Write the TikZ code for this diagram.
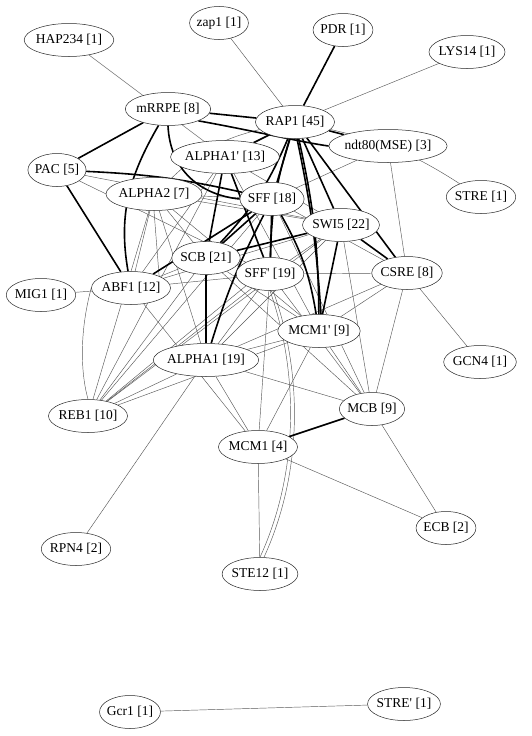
\documentclass[tikz,border=0pt]{standalone}
\usepackage{fontspec}
\setmainfont{Liberation Serif}
\usetikzlibrary{shapes.geometric,backgrounds}
\begin{document}
\begin{tikzpicture}[x=1pt,y=-1pt,
  gnode/.style={draw=black!85,fill=white,ellipse,line width=0.5pt,inner xsep=-1.5pt,inner ysep=1pt,minimum height=33pt,font=\fontsize{13.5}{15}\selectfont},
  tn/.style={draw=black!65,line width=0.45pt},
  tk/.style={draw=black,line width=1.6pt}]
\useasboundingbox (0,0) rectangle (532,736);
\node[gnode] (hap) at (69,40) {HAP234 [1]};
\node[gnode] (zap) at (219,23) {zap1 [1]};
\node[gnode] (pdr) at (343,30) {PDR [1]};
\node[gnode] (lys) at (467,52) {LYS14 [1]};
\node[gnode] (mrrpe) at (168,109) {mRRPE [8]};
\node[gnode] (rap) at (295,122) {RAP1 [45]};
\node[gnode] (ndt) at (388,146) {ndt80(MSE) [3]};
\node[gnode] (a1p) at (225,157) {ALPHA1\textquotesingle\ [13]};
\node[gnode] (pac) at (57,170) {PAC [5]};
\node[gnode] (stre) at (481,197) {STRE [1]};
\node[gnode] (a2) at (154,194) {ALPHA2 [7]};
\node[gnode] (sff) at (272,199) {SFF [18]};
\node[gnode] (swi) at (341,225) {SWI5 [22]};
\node[gnode] (scb) at (206,258) {SCB [21]};
\node[gnode] (sffp) at (270,274) {SFF\textquotesingle\ [19]};
\node[gnode] (csre) at (407,273) {CSRE [8]};
\node[gnode] (mig) at (41,295) {MIG1 [1]};
\node[gnode] (abf) at (131,288) {ABF1 [12]};
\node[gnode] (mcmp) at (319,331) {MCM1\textquotesingle\ [9]};
\node[gnode] (gcn) at (480,362) {GCN4 [1]};
\node[gnode] (a1) at (206,360) {ALPHA1 [19]};
\node[gnode] (reb) at (88,416) {REB1 [10]};
\node[gnode] (mcb) at (372,409) {MCB [9]};
\node[gnode] (mcm) at (258,447) {MCM1 [4]};
\node[gnode] (ecb) at (446,528) {ECB [2]};
\node[gnode] (rpn) at (76,549) {RPN4 [2]};
\node[gnode] (ste) at (260,574) {STE12 [1]};
\node[gnode] (gcr) at (130,712) {Gcr1 [1]};
\node[gnode] (strep) at (404,704) {STRE\textquotesingle\ [1]};
\begin{scope}[on background layer]
% thin edges
\draw[tn] (hap) -- (a1p);
\draw[tn] (zap) -- (rap);
\draw[tn] (lys) -- (rap);
\draw[tn] (rap) to[bend left=10] (stre);
\draw[tn] (rap) to[bend right=15] (a2);
\draw[tn] (ndt) -- (csre);
\draw[tn] (ndt) -- (sff);
\draw[tn] (pac) -- (swi);
\draw[tn] (pac) -- (sffp);
\draw[tn] (a2) -- (abf);
\draw[tn] (a2.south) -- (abf.north east);
\draw[tn] (a2) -- (sff);
\draw[tn] (a2) -- (swi);
\draw[tn] (a2) -- (a1);
\draw[tn] (a2) -- (reb);
\draw[tn] (a2) -- (scb);
\draw[tn] (a2) -- (mcmp);
\draw[tn] (a1p) -- (abf);
\draw[tn] (a1p) -- (reb);
\draw[tn] (a1p) -- (swi);
\draw[tn] (a1p) -- (mcmp);
\draw[tn] (sff) -- (reb);
\draw[tn] (sff) -- (csre);
\draw[tn] (sff) -- (mcb);
\draw[tn] (swi) -- (abf);
\draw[tn] (swi) -- (sffp);
\draw[tn] (swi) -- (a1);
\draw[tn] (swi) -- (mcb);
\draw[tn] (swi) -- (reb);
\draw[tn] (scb) -- (reb);
\draw[tn] (scb) -- (sffp);
\draw[tn] (scb) -- (mcmp);
\draw[tn] (scb) -- (mcb);
\draw[tn] (sffp) -- (csre);
\draw[tn] (sffp) -- (abf);
\draw[tn] (sffp) -- (reb);
\draw[tn] (sffp) -- (mcm);
\draw[tn] (sffp.south) .. controls (298,370) and (300,470) .. (ste.north);
\draw[tn] ([xshift=3pt]sffp.south) .. controls (302,370) and (304,470) .. ([xshift=4pt]ste.north);
\draw[tn] (sffp) -- (mcb);
\draw[tn] (sffp) -- (a1);
\draw[tn] (csre) -- (mcmp);
\draw[tn] (csre) -- (mcb);
\draw[tn] (csre) -- (gcn);
\draw[tn] (csre) -- (a1);
\draw[tn] (mig) -- (abf);
\draw[tn] (abf.west) .. controls (80,330) and (80,370) .. (reb.north);
\draw[tn] (abf) -- (mcm);
\draw[tn] (abf) -- (scb);
\draw[tn] (mcmp) -- (a1);
\draw[tn] (mcmp) -- (reb);
\draw[tn] (mcmp) -- (mcm);
\draw[tn] (mcmp) -- (mcb);
\draw[tn] (a1) -- (mcb);
\draw[tn] (a1) -- (mcm);
\draw[tn] (a1) -- (rpn);
\draw[tn] (a1) -- (reb);
\draw[tn] (reb) -- (sffp.south west);
\draw[tn] (mcb) -- (ecb);
\draw[tn] (mcm) -- (ecb);
\draw[tn] (mcm) -- (ste);
\draw[tn] (gcr) -- (strep);
% thick edges
\draw[tk] (pdr) -- (rap);
\draw[tk] (mrrpe) -- (rap);
\draw[tk] (mrrpe.south east) .. controls (250,130) and (300,142) .. (ndt.west);
\draw[tk] (mrrpe) -- (pac);
\draw[tk] (mrrpe) to[out=-120,in=100] (abf);
\draw[tk] (mrrpe.south) .. controls (170,170) and (200,195) .. (sff.west);
\draw[tk] (rap) -- (a1p);
\draw[tk] (rap) -- (sff);
\draw[tk] (rap) to[bend left=10] (scb);
\draw[tk] (rap) to[bend right=8] (sffp);
\draw[tk] (rap) to[bend left=6] (mcmp);
\draw[tk] ([xshift=2pt]rap.south) to[bend left=4] ([xshift=2pt]mcmp.north);
\draw[tk] (rap) -- (swi);
\draw[tk] (rap) -- (csre);
\draw[tk] (rap) -- (ndt);
\draw[tk] (pac) to[bend left=5] (sff);
\draw[tk] (pac) -- (abf);
\draw[tk] (a1p) -- (scb);
\draw[tk] (a1p) -- (sffp);
\draw[tk] (sff) -- (scb);
\draw[tk] (sff) to[bend right=5] (a1);
\draw[tk] (sff) -- (abf);
\draw[tk] (sff) to[bend left=10] (mcmp);
\draw[tk] (sff) -- (sffp);
\draw[tk] (swi) -- (scb);
\draw[tk] (swi) -- (mcmp);
\draw[tk] (swi) -- (csre);
\draw[tk] (scb) -- (a1);
\draw[tk] (mcm) -- (mcb);
\end{scope}
\end{tikzpicture}
\end{document}
